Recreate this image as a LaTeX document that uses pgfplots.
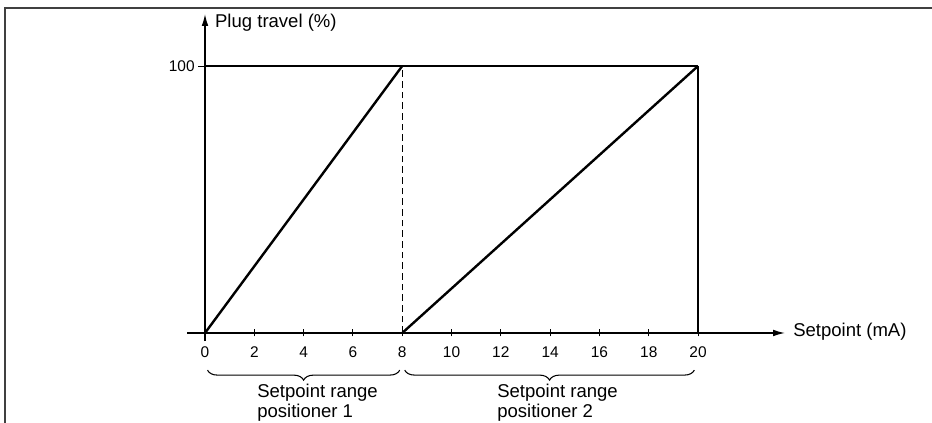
\documentclass[border=0pt]{standalone}
\usepackage{fontspec}
\setmainfont{Liberation Sans}
\usepackage{pgfplots}
\pgfplotsset{compat=1.18}
\usetikzlibrary{arrows.meta,decorations.pathreplacing}
\begin{document}
\begin{tikzpicture}[x=0.75pt,y=0.75pt]
\useasboundingbox (0,0) rectangle (932,423);
\draw[line width=1.1pt,black!75] (5,-10) -- (5,415) -- (945,415);
\begin{axis}[
  at={(153.75pt,67.5pt)}, anchor=origin,
  x=18.49pt, y=2.0025pt,
  axis lines=middle,
  xmin=-0.73, xmax=23.53, ymin=-3, ymax=119.5,
  clip=false,
  axis line style={line width=1.1pt,-{Latex[length=9pt,width=5pt]}},
  xtick={0,2,...,20}, ytick={100},
  hide obscured x ticks=false, hide obscured y ticks=false,
  major tick length=5.25pt,
  xtick align=center, ytick align=outside,
  tick style={black,line width=0.7pt},
  /pgf/number format/assume math mode=true,
  ticklabel style={font=\fontsize{11.6}{13}\selectfont},
  xticklabel style={anchor=north,yshift=-4pt},
  yticklabel style={anchor=east,xshift=1pt},
]
\addplot[black,line width=0.9pt] coordinates {(0,100) (20,100)};
\addplot[black,line width=0.9pt] coordinates {(20,0) (20,100)};
\addplot[black,line width=0.7pt,dash pattern=on 5pt off 3pt] coordinates {(8,0) (8,100)};
\addplot[black,line width=1.8pt] coordinates {(0,0) (8,100)};
\addplot[black,line width=1.8pt] coordinates {(8,0) (20,100)};
\draw[line width=0.8pt,decorate,decoration={brace,mirror,amplitude=7.5pt}]
  (axis cs:0.1,-13.9) -- (axis cs:7.9,-13.9);
\draw[line width=0.8pt,decorate,decoration={brace,mirror,amplitude=7.5pt}]
  (axis cs:8.1,-13.9) -- (axis cs:19.85,-13.9);
\node[anchor=base west,inner sep=0pt,font=\fontsize{13.9}{16}\selectfont] at (axis cs:0.4,114.6) {Plug travel (\%)};
\node[anchor=base west,inner sep=0pt,font=\fontsize{13.9}{16}\selectfont] at (axis cs:23.85,-1.5) {Setpoint (mA)};
\end{axis}
\node[anchor=base west,inner sep=0pt,font=\fontsize{13.9}{16}\selectfont] at (257,25) {Setpoint range};
\node[anchor=base west,inner sep=0pt,font=\fontsize{13.9}{16}\selectfont] at (257,5) {positioner 1};
\node[anchor=base west,inner sep=0pt,font=\fontsize{13.9}{16}\selectfont] at (497,25) {Setpoint range};
\node[anchor=base west,inner sep=0pt,font=\fontsize{13.9}{16}\selectfont] at (497,5) {positioner 2};
\end{tikzpicture}
\end{document}
